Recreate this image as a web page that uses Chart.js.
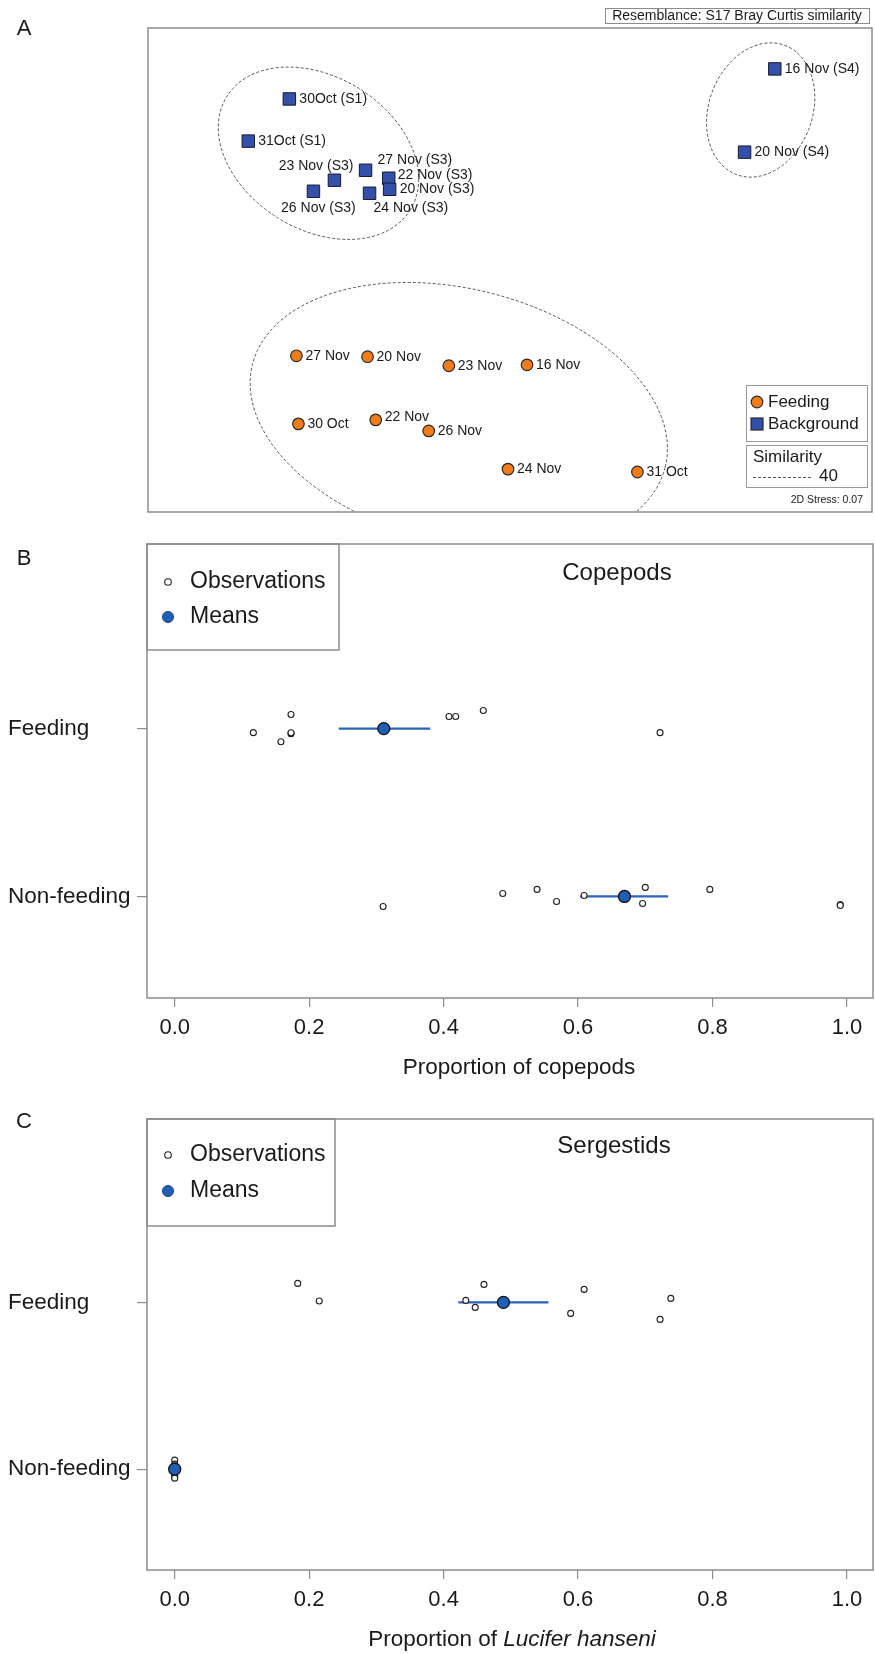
<!DOCTYPE html>
<html lang="en">
<head>
<meta charset="utf-8">
<title>Feeding vs background samples: nMDS and diet proportions</title>
<script src="https://cdn.jsdelivr.net/npm/chart.js@4.4.1/dist/chart.umd.min.js"></script>
<style>
    html, body { margin: 0; padding: 0; background: #fff; }
    .figure { position: relative; width: 875px; height: 1654px; }
    .panel { position: absolute; left: 0; }
    #panelA { top: 0; }
    #panelB { top: 520px; }
    #panelC { top: 1095px; }
</style>
</head>
<body>
<div class="figure">
    <canvas id="panelA" class="panel" width="875" height="520"></canvas>
    <canvas id="panelB" class="panel" width="875" height="575"></canvas>
    <canvas id="panelC" class="panel" width="875" height="559"></canvas>
</div>
<script>
// ---------- Panel A: nMDS ordination (Bray Curtis) ----------
const bgLabels = ['30Oct (S1)', '31Oct (S1)', '23 Nov (S3)', '27 Nov (S3)', '22 Nov (S3)',
                  '20 Nov (S3)', '26 Nov (S3)', '24 Nov (S3)', '16 Nov (S4)', '20 Nov (S4)'];
const bgX = [-1.219, -1.446, -0.970, -0.798, -0.670, -0.665, -1.086, -0.776, 1.463, 1.296];
const bgY = [0.945, 0.712, 0.496, 0.551, 0.507, 0.446, 0.435, 0.424, 1.111, 0.651];

const feedLabels = ['27 Nov', '20 Nov', '23 Nov', '16 Nov', '30 Oct', '22 Nov', '26 Nov', '24 Nov', '31 Oct'];
const feedX = [-1.180, -0.787, -0.338, 0.094, -1.169, -0.742, -0.449, -0.011, 0.704];
const feedY = [-0.474, -0.479, -0.529, -0.524, -0.850, -0.828, -0.889, -1.100, -1.116];

// 40% similarity contours: centre, semi-axes, tilt (degrees, anticlockwise)
const contourX = [-1.058, 1.385, -0.283];
const contourY = [0.645, 0.884, -0.806];
const contourMajor = [0.596, 0.381, 1.175];
const contourMinor = [0.422, 0.286, 0.701];
const contourTilt = [-31.6, 69.7, -14.0];

// ---------- Panels B and C: proportions per group ----------
const groups = ['Non-feeding', 'Feeding'];   // y = 0, 1
const xTicks = [0, 0.2, 0.4, 0.6, 0.8, 1.0];

// copepods
const copFeedX = [0.117, 0.173, 0.173, 0.173, 0.158, 0.408, 0.418, 0.459, 0.722];
const copFeedY = [0.976, 1.084, 0.970, 0.975, 0.922, 1.072, 1.072, 1.108, 0.976];
const copNonX = [0.310, 0.488, 0.539, 0.568, 0.609, 0.700, 0.696, 0.796, 0.990, 0.990];
const copNonY = [-0.060, 0.018, 0.042, -0.030, 0.006, 0.054, -0.042, 0.042, -0.048, -0.054];
const copMean = [0.669, 0.311];
const copLow = [0.603, 0.244];
const copHigh = [0.734, 0.380];

// sergestids (Lucifer hanseni)
const serFeedX = [0.183, 0.215, 0.433, 0.447, 0.460, 0.589, 0.609, 0.722, 0.738];
const serFeedY = [1.114, 1.008, 1.012, 0.970, 1.108, 0.934, 1.078, 0.898, 1.024];
const serNonX = [0, 0, 0, 0, 0, 0, 0, 0, 0, 0];
const serNonY = [0.054, 0.030, 0.012, -0.006, -0.020, 0.020, -0.035, -0.048, -0.054, 0.000];
const serMean = [0.0, 0.489];
const serLow = [0.0, 0.422];
const serHigh = [0.0, 0.556];

// ---------- styles ----------
const FONT = "'Liberation Sans', Arial, Helvetica, sans-serif";
const INK = '#1a1a1a';
const FRAME = '#8c8c8c';
const BLUE_SQ = '#3450a8';
const ORANGE = '#f07d1a';
const MEAN_BLUE = '#1f5fb5';
const BAR_BLUE = '#2a62b8';

// label placement for panel A points: [dx, dy, align]
const anchors = {
    r: [10, 0, 'left'], ru: [9, -3, 'left'], ra: [12, -10, 'left'], la: [19, -14, 'right'],
    b: [5, 17, 'center'], br: [4, 15, 'left'], rc: [9, 0, 'left']
};
const bgAnchor = ['r', 'r', 'la', 'ra', 'ru', 'r', 'b', 'br', 'r', 'r'];
const feedAnchor = ['rc', 'rc', 'rc', 'rc', 'rc', 'ru', 'rc', 'rc', 'rc'];

function font(size, style) {
    return (style ? style + ' ' : '') + size + 'px ' + FONT;
}

document.addEventListener('DOMContentLoaded', function() {
    Chart.defaults.font.family = FONT;
    Chart.defaults.color = INK;
    initOrdination();
    initStripChart('panelB', {
        letter: 'B', letterY: 39, title: 'Copepods', titleX: 617, titleY: 53,
        xTitle: [['Proportion of copepods', '']], xTitleX: 519, xTitleY: 548,
        axisHeight: 97, legendW: 192, legendH: 106, legendRows: [38, 73],
        feedX: copFeedX, feedY: copFeedY, nonX: copNonX, nonY: copNonY,
        mean: copMean, low: copLow, high: copHigh
    });
    initStripChart('panelC', {
        letter: 'C', letterY: 27, title: 'Sergestids', titleX: 614, titleY: 51,
        xTitle: [['Proportion of ', ''], ['Lucifer hanseni', 'italic']], xTitleX: 512, xTitleY: 545,
        axisHeight: 84, legendW: 188, legendH: 107, legendRows: [36, 72],
        feedX: serFeedX, feedY: serFeedY, nonX: serNonX, nonY: serNonY,
        mean: serMean, low: serLow, high: serHigh
    });
});

// Panel A
function initOrdination() {
    const decor = {
        id: 'mdsDecor',
        beforeDatasetsDraw(chart) {
            const { ctx, chartArea: a, scales: { x, y } } = chart;
            const unit = x.getPixelForValue(1) - x.getPixelForValue(0);
            ctx.save();
            ctx.beginPath();
            ctx.rect(a.left, a.top, a.right - a.left, a.bottom - a.top);
            ctx.clip();
            ctx.strokeStyle = '#555';
            ctx.lineWidth = 1;
            ctx.setLineDash([3, 2]);
            contourX.forEach((cx, i) => {
                ctx.beginPath();
                ctx.ellipse(x.getPixelForValue(cx), y.getPixelForValue(contourY[i]),
                    contourMajor[i] * unit, contourMinor[i] * unit,
                    -contourTilt[i] * Math.PI / 180, 0, 2 * Math.PI);
                ctx.stroke();
            });
            ctx.restore();
        },
        afterDatasetsDraw(chart) {
            const ctx = chart.ctx;
            ctx.save();
            ctx.fillStyle = INK;
            ctx.font = font(14);
            ctx.textBaseline = 'middle';
            const put = (meta, labels, codes) => {
                meta.data.forEach((pt, i) => {
                    const [dx, dy, align] = anchors[codes[i]];
                    ctx.textAlign = align;
                    ctx.fillText(labels[i], pt.x + dx, pt.y + dy);
                });
            };
            put(chart.getDatasetMeta(0), bgLabels, bgAnchor);
            put(chart.getDatasetMeta(1), feedLabels, feedAnchor);
            ctx.restore();
        },
        afterDraw(chart) {
            const { ctx, chartArea: a } = chart;
            ctx.save();
            ctx.strokeStyle = FRAME;
            ctx.lineWidth = 1.5;
            ctx.strokeRect(a.left, a.top, a.right - a.left, a.bottom - a.top);

            // resemblance box
            ctx.lineWidth = 1;
            ctx.strokeRect(605.5, 8.5, 264, 15);
            ctx.fillStyle = INK;
            ctx.font = font(14);
            ctx.textAlign = 'center';
            ctx.textBaseline = 'middle';
            ctx.fillText('Resemblance: S17 Bray Curtis similarity', 737, 16.5);

            // legend
            ctx.strokeStyle = '#999';
            ctx.strokeRect(746.5, 385.5, 121, 56);
            ctx.strokeRect(746.5, 445.5, 121, 42);
            ctx.beginPath();
            ctx.arc(757, 402, 5.8, 0, 2 * Math.PI);
            ctx.fillStyle = ORANGE;
            ctx.fill();
            ctx.strokeStyle = '#2b2b2b';
            ctx.lineWidth = 1.2;
            ctx.stroke();
            ctx.fillStyle = BLUE_SQ;
            ctx.fillRect(751, 418, 12, 12);
            ctx.strokeRect(751, 418, 12, 12);
            ctx.fillStyle = INK;
            ctx.font = font(17);
            ctx.textAlign = 'left';
            ctx.fillText('Feeding', 768, 402);
            ctx.fillText('Background', 768, 424);
            ctx.fillText('Similarity', 753, 457);
            ctx.fillText('40', 819, 476);
            ctx.strokeStyle = '#555';
            ctx.lineWidth = 1;
            ctx.setLineDash([3, 2]);
            ctx.beginPath();
            ctx.moveTo(753, 477.5);
            ctx.lineTo(812, 477.5);
            ctx.stroke();
            ctx.setLineDash([]);

            ctx.font = font(10.5);
            ctx.textAlign = 'right';
            ctx.fillText('2D Stress: 0.07', 863, 500);

            ctx.font = font(22);
            ctx.textAlign = 'center';
            ctx.fillText('A', 24, 29);
            ctx.restore();
        }
    };

    new Chart(document.getElementById('panelA'), {
        type: 'scatter',
        data: {
            datasets: [{
                label: 'Background',
                data: bgX.map((x, i) => ({ x: x, y: bgY[i] })),
                pointStyle: 'rect',
                pointRadius: 8.8,
                backgroundColor: BLUE_SQ,
                borderColor: '#1a1a2e',
                borderWidth: 1
            }, {
                label: 'Feeding',
                data: feedX.map((x, i) => ({ x: x, y: feedY[i] })),
                pointStyle: 'circle',
                pointRadius: 5.8,
                backgroundColor: ORANGE,
                borderColor: '#2b2b2b',
                borderWidth: 1.2
            }]
        },
        options: {
            responsive: false,
            animation: false,
            events: [],
            layout: { autoPadding: false, padding: { left: 148, top: 28, right: 3, bottom: 8 } },
            scales: {
                x: { display: false, min: -2, max: 2 },
                y: { display: false, min: -1.337, max: 1.337 }
            },
            plugins: { legend: { display: false }, tooltip: { enabled: false } }
        },
        plugins: [decor]
    });
}

// Panels B and C
function initStripChart(id, o) {
    const decor = {
        id: 'stripDecor',
        afterDraw(chart) {
            const { ctx, chartArea: a } = chart;
            ctx.save();
            ctx.strokeStyle = FRAME;
            ctx.lineWidth = 1.5;
            ctx.strokeRect(a.left, a.top, a.right - a.left, a.bottom - a.top);
            ctx.strokeRect(a.left, a.top, o.legendW, o.legendH);

            // legend markers
            ctx.beginPath();
            ctx.arc(168, a.top + o.legendRows[0], 3.3, 0, 2 * Math.PI);
            ctx.fillStyle = '#fff';
            ctx.fill();
            ctx.strokeStyle = '#222';
            ctx.lineWidth = 1.1;
            ctx.stroke();
            ctx.beginPath();
            ctx.arc(168, a.top + o.legendRows[1], 5.5, 0, 2 * Math.PI);
            ctx.fillStyle = MEAN_BLUE;
            ctx.fill();
            ctx.strokeStyle = '#1c3f78';
            ctx.lineWidth = 1;
            ctx.stroke();

            ctx.fillStyle = INK;
            ctx.textBaseline = 'middle';
            ctx.textAlign = 'left';
            ctx.font = font(23);
            ctx.fillText('Observations', 190, a.top + o.legendRows[0]);
            ctx.fillText('Means', 190, a.top + o.legendRows[1]);

            ctx.font = font(24);
            ctx.textAlign = 'center';
            ctx.fillText(o.title, o.titleX, o.titleY);

            // axis title, possibly with an italic part
            let total = 0;
            o.xTitle.forEach(p => { ctx.font = font(22.5, p[1]); total += ctx.measureText(p[0]).width; });
            let cx = o.xTitleX - total / 2;
            ctx.textAlign = 'left';
            o.xTitle.forEach(p => {
                ctx.font = font(22.5, p[1]);
                ctx.fillText(p[0], cx, o.xTitleY);
                cx += ctx.measureText(p[0]).width;
            });

            ctx.font = font(22);
            ctx.textAlign = 'center';
            ctx.fillText(o.letter, 24, o.letterY);
            ctx.restore();
        }
    };

    const obs = o.feedX.map((x, i) => ({ x: x, y: o.feedY[i] }))
        .concat(o.nonX.map((x, i) => ({ x: x, y: o.nonY[i] })));
    const bars = groups.map((g, k) => ({
        label: g + ' range',
        data: [{ x: o.low[k], y: k }, { x: o.high[k], y: k }],
        showLine: true,
        borderColor: BAR_BLUE,
        borderWidth: 2.2,
        pointRadius: 0,
        order: 2
    }));

    new Chart(document.getElementById(id), {
        type: 'scatter',
        data: {
            datasets: [{
                label: 'Means',
                data: o.mean.map((m, k) => ({ x: m, y: k })),
                pointRadius: 6,
                backgroundColor: MEAN_BLUE,
                borderColor: '#111',
                borderWidth: 1.3,
                order: 0
            }, {
                label: 'Observations',
                data: obs,
                pointRadius: 3,
                backgroundColor: '#fff',
                borderColor: '#222',
                borderWidth: 1.1,
                order: 1
            }].concat(bars)
        },
        options: {
            responsive: false,
            animation: false,
            events: [],
            layout: { autoPadding: false, padding: { left: 8, top: 24, right: 2, bottom: 0 } },
            scales: {
                x: {
                    type: 'linear',
                    min: -0.0412,
                    max: 1.0387,
                    afterBuildTicks: axis => { axis.ticks = xTicks.map(v => ({ value: v })); },
                    afterFit: axis => { axis.height = o.axisHeight; },
                    border: { display: false },
                    grid: { drawOnChartArea: false, drawTicks: true, tickLength: 9, color: FRAME, lineWidth: 1.2 },
                    ticks: {
                        padding: 8,
                        color: INK,
                        font: { size: 22 },
                        maxRotation: 0,
                        autoSkip: false,
                        callback: v => v.toFixed(1)
                    }
                },
                y: {
                    type: 'linear',
                    min: -0.605,
                    max: 2.1,
                    afterBuildTicks: axis => { axis.ticks = groups.map((g, k) => ({ value: k })); },
                    afterFit: axis => { axis.width = 139; },
                    border: { display: false },
                    grid: { drawOnChartArea: false, drawTicks: true, tickLength: 10, color: FRAME, lineWidth: 1.2 },
                    ticks: {
                        crossAlign: 'far',
                        padding: 4,
                        color: INK,
                        font: { size: 22.5 },
                        autoSkip: false,
                        callback: v => groups[v]
                    }
                }
            },
            plugins: { legend: { display: false }, tooltip: { enabled: false } }
        },
        plugins: [decor]
    });
}
</script>
</body>
</html>
